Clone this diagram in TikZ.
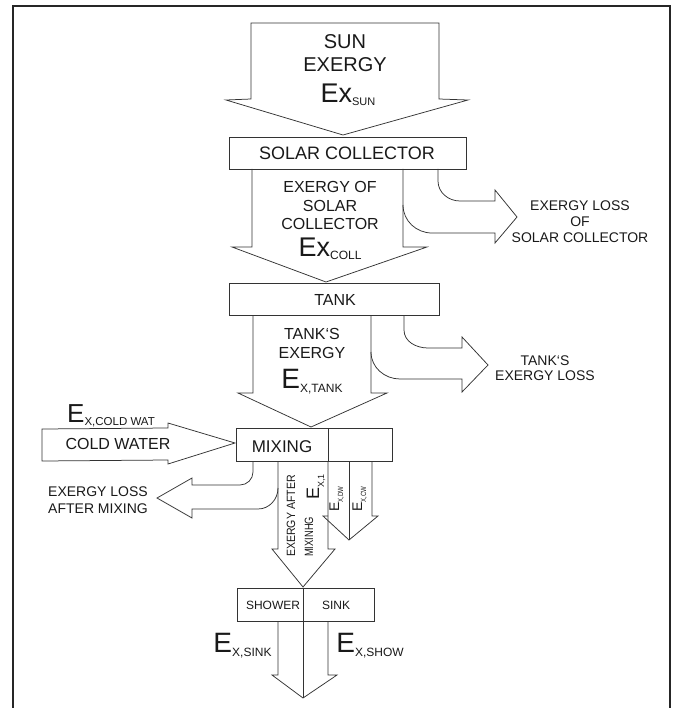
\documentclass[tikz,border=0pt]{standalone}
\usepackage{fontspec}
\setmainfont{Liberation Sans}
\newcommand{\fsz}[1]{\fontsize{#1}{#1}\selectfont}
\newcommand{\tick}{\char96}
\begin{document}
\begin{tikzpicture}[x=1pt,y=-1pt,
  ln/.style={draw=black!80, line width=0.75pt, line join=miter},
  frm/.style={draw=black!85, line width=1.6pt},
  boxn/.style={ln, inner sep=0pt, minimum height=32pt},
  lbl/.style={inner sep=0pt, anchor=base, text=black!90},
  rlbl/.style={inner sep=0pt, anchor=base west, rotate=90, text=black!90}
]
\useasboundingbox (0,0) rectangle (676,708);
% frame
\draw[frm] (13,712) -- (13,6) -- (670,6) -- (670,712);

% boxes
\node[boxn, minimum width=237pt] (coll) at (347.5,153) {};
\node[boxn, minimum width=210pt] (tank) at (334,299) {};
\node[boxn, minimum width=156pt, minimum height=33pt] (mix) at (314,444.5) {};
\node[boxn, minimum width=137pt, minimum height=33pt] (show) at (305.5,604.5) {};
\draw[ln] (328,428) -- (328,461);

% sun arrow
\draw[ln] (251,23) -- (439,23) -- (439,99) -- (468,100) -- (343,135) -- (226,100) -- (251,99) -- cycle;
% collector arrow
\draw[ln] (252,169) -- (252,247) -- (232,247) -- (326,282) -- (427,247) -- (403,247) -- (403,169);
% collector loss
\draw[ln] (403,205) to[out=-90,in=180] (432,233) -- (495,233) -- (495,243) -- (517,217) -- (495,190) -- (495,201) -- (460,201) to[out=180,in=-90] (438,181) -- (438,169);
% tank arrow
\draw[ln] (253,315) -- (253,393) -- (238,393) -- (311,427) -- (387,393) -- (371,393) -- (371,315);
% tank loss
\draw[ln] (371,352) to[out=-90,in=180] (400,379) -- (462,379) -- (462,392) -- (488,365) -- (462,337) -- (462,348) -- (428,348) to[out=180,in=-90] (404,330) -- (404,315);
% cold water arrow
\draw[ln] (42,429) -- (168,428) -- (168,423) -- (235,443) -- (168,464) -- (168,460) -- (42,461) -- cycle;
% mixing loss
\draw[ln] (253,461) -- (253,472) to[out=-90,in=0] (240,485) -- (192,485) -- (192,478) -- (157,498) -- (192,518) -- (192,509) -- (258,509) to[out=0,in=-90] (278,488);
% after mixing arrow
\draw[ln] (278,461) -- (278,549) -- (272,549) -- (303,587) -- (335,549) -- (328,549) -- (328,461);
% dw / cw arrow
\draw[ln] (328,516) -- (323,516) -- (349,540) -- (378,516) -- (372,516) -- (372,461);
\draw[ln] (349,461) -- (349,540);
% bottom arrow
\draw[ln] (278,621) -- (278,675) -- (272,675) -- (303,698) -- (337,675) -- (328,675) -- (328,621);
\draw[ln] (303,588) -- (303,698);

% texts
\node[lbl, font=\fsz{20}] (sun1) at (345,49) {SUN};
\node[lbl, font=\fsz{20}] (sun2) at (345,72) {EXERGY};
\node[lbl] (sun3) at (348,103) {{\fsz{27}Ex}\raisebox{-3pt}{\fsz{11}SUN}};

\node[lbl, font=\fsz{18}] (collt) at (347,160) {SOLAR COLLECTOR};
\node[lbl, font=\fsz{16}] (c1) at (330,193) {EXERGY OF};
\node[lbl, font=\fsz{16}] (c2) at (330,212) {SOLAR};
\node[lbl, font=\fsz{16}] (c3) at (330,230) {COLLECTOR};
\node[lbl] (c4) at (330,257) {{\fsz{27}Ex}\raisebox{-2pt}{\fsz{12}COLL}};

\node[lbl, font=\fsz{14}] (l1) at (580,211) {EXERGY LOSS};
\node[lbl, font=\fsz{14}] (l2) at (580,227) {OF};
\node[lbl, font=\fsz{14}] (l3) at (580,243) {SOLAR COLLECTOR};

\node[lbl, font=\fsz{16}] (tankt) at (335,305) {TANK};
\node[lbl, font=\fsz{16}] (t1) at (312,339) {TANK\tick S};
\node[lbl, font=\fsz{16}] (t2) at (312,358) {EXERGY};
\node[lbl] (t3) at (312,388) {{\fsz{28}E}\raisebox{-4pt}{\fsz{12}X,TANK}};

\node[lbl, font=\fsz{14}] (tl1) at (545,365) {TANK\tick S};
\node[lbl, font=\fsz{14}] (tl2) at (545,380) {EXERGY LOSS};

\node[lbl, font=\fsz{17}] (mixt) at (282,452) {MIXING};
\node[lbl, font=\fsz{16}] (cw) at (118,449) {COLD WATER};
\node[lbl] (cwx) at (111,422) {{\fsz{26}E}\raisebox{-3pt}{\fsz{11.5}X,COLD WAT}};

\node[lbl, font=\fsz{14}] (ml1) at (98,496) {EXERGY LOSS};
\node[lbl, font=\fsz{14}] (ml2) at (98,513) {AFTER MIXING};

\node[rlbl] (am1) at (295,557) {\scalebox{0.88}[1]{\fsz{12}EXERGY AFTER}};
\node[rlbl] (am2) at (313,557) {\scalebox{0.78}[1]{\fsz{12}MIXINHG}};
\node[rlbl] (ex1) at (319,500) {{\fsz{18}E}\raisebox{-5pt}{\fsz{9}X,1}};
\node[rlbl] (exdw) at (339,512) {{\fsz{14}E}\raisebox{-4pt}{\scalebox{0.8}[1]{\fsz{7.5}X,DW}}};
\node[rlbl] (excw) at (362,512) {{\fsz{14}E}\raisebox{-4pt}{\scalebox{0.8}[1]{\fsz{7.5}X,CW}}};

\node[lbl, font=\fsz{12}] (sh) at (273,609) {SHOWER};
\node[lbl, font=\fsz{12}] (sk) at (336,609) {SINK};
\node[lbl] (exs) at (242.5,652) {{\fsz{28}E}\raisebox{-4pt}{\fsz{12}X,SINK}};
\node[lbl] (exsh) at (370,652) {{\fsz{28}E}\raisebox{-4pt}{\fsz{12}X,SHOW}};
\end{tikzpicture}
\end{document}
